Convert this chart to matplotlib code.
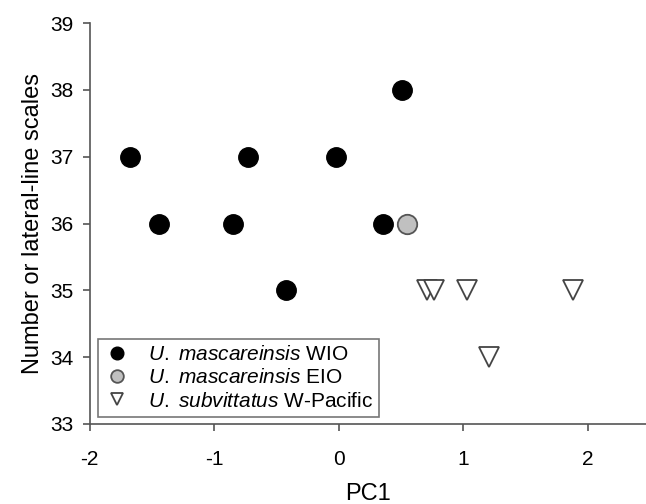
import matplotlib
matplotlib.use('Agg')
import matplotlib.pyplot as plt

plt.rcParams['font.family'] = ['Liberation Sans', 'DejaVu Sans']
plt.rcParams['mathtext.fontset'] = 'custom'
plt.rcParams['mathtext.rm'] = 'Liberation Sans'
plt.rcParams['mathtext.it'] = 'Liberation Sans:italic'
plt.rcParams['axes.unicode_minus'] = False

# U. mascareinsis WIO
wio_pc1 = [-1.68, -1.44, -0.85, -0.73, -0.42, -0.02, 0.36, 0.51]
wio_scales = [37, 36, 36, 37, 35, 37, 36, 38]

# U. mascareinsis EIO
eio_pc1 = [0.55]
eio_scales = [36]

# U. subvittatus W-Pacific
pac_pc1 = [0.71, 0.77, 1.03, 1.88, 1.21]
pac_scales = [35, 35, 35, 35, 34]

labels = [r'$\it{U.\ mascareinsis}$ WIO',
          r'$\it{U.\ mascareinsis}$ EIO',
          r'$\it{U.\ subvittatus}$ W-Pacific']

fig = plt.figure(figsize=(6.46, 5.04), dpi=100)
ax = fig.add_axes([0.139, 0.159, 0.861, 0.795])

ax.plot(wio_pc1, wio_scales, 'o', ms=14, mfc='black', mec='black', label=labels[0])
ax.plot(eio_pc1, eio_scales, 'o', ms=14, mfc='#c0c0c0', mec='#555555', mew=1.3, label=labels[1])
ax.plot(pac_pc1, pac_scales, 'v', ms=14, mfc='white', mec='#444444', mew=1.3, label=labels[2])

ax.set_xlim(-2, 2.47)
ax.set_ylim(33, 39)
ax.set_xticks([-2, -1, 0, 1, 2])
ax.set_yticks([33, 34, 35, 36, 37, 38, 39])
ax.set_xlabel('PC1', fontsize=17, labelpad=10)
ax.set_ylabel('Number or lateral-line scales', fontsize=17, labelpad=4)

for s in ['top', 'right']:
    ax.spines[s].set_visible(False)
for s in ['left', 'bottom']:
    ax.spines[s].set_color('#555555')
    ax.spines[s].set_linewidth(1.2)
ax.tick_params(direction='out', length=5, width=1.2, color='#555555', labelsize=15, pad=7)
ax.tick_params(axis='x', pad=14)

leg = ax.legend(loc='lower left', bbox_to_anchor=(0.0144, 0.0175), borderaxespad=0,
                fontsize=15, markerscale=0.65, fancybox=False, framealpha=1,
                edgecolor='#777777', handletextpad=0.9, labelspacing=0.2,
                borderpad=0.3, handlelength=1.2)
leg.get_frame().set_linewidth(1.2)

fig.savefig('out.png', dpi=100)
